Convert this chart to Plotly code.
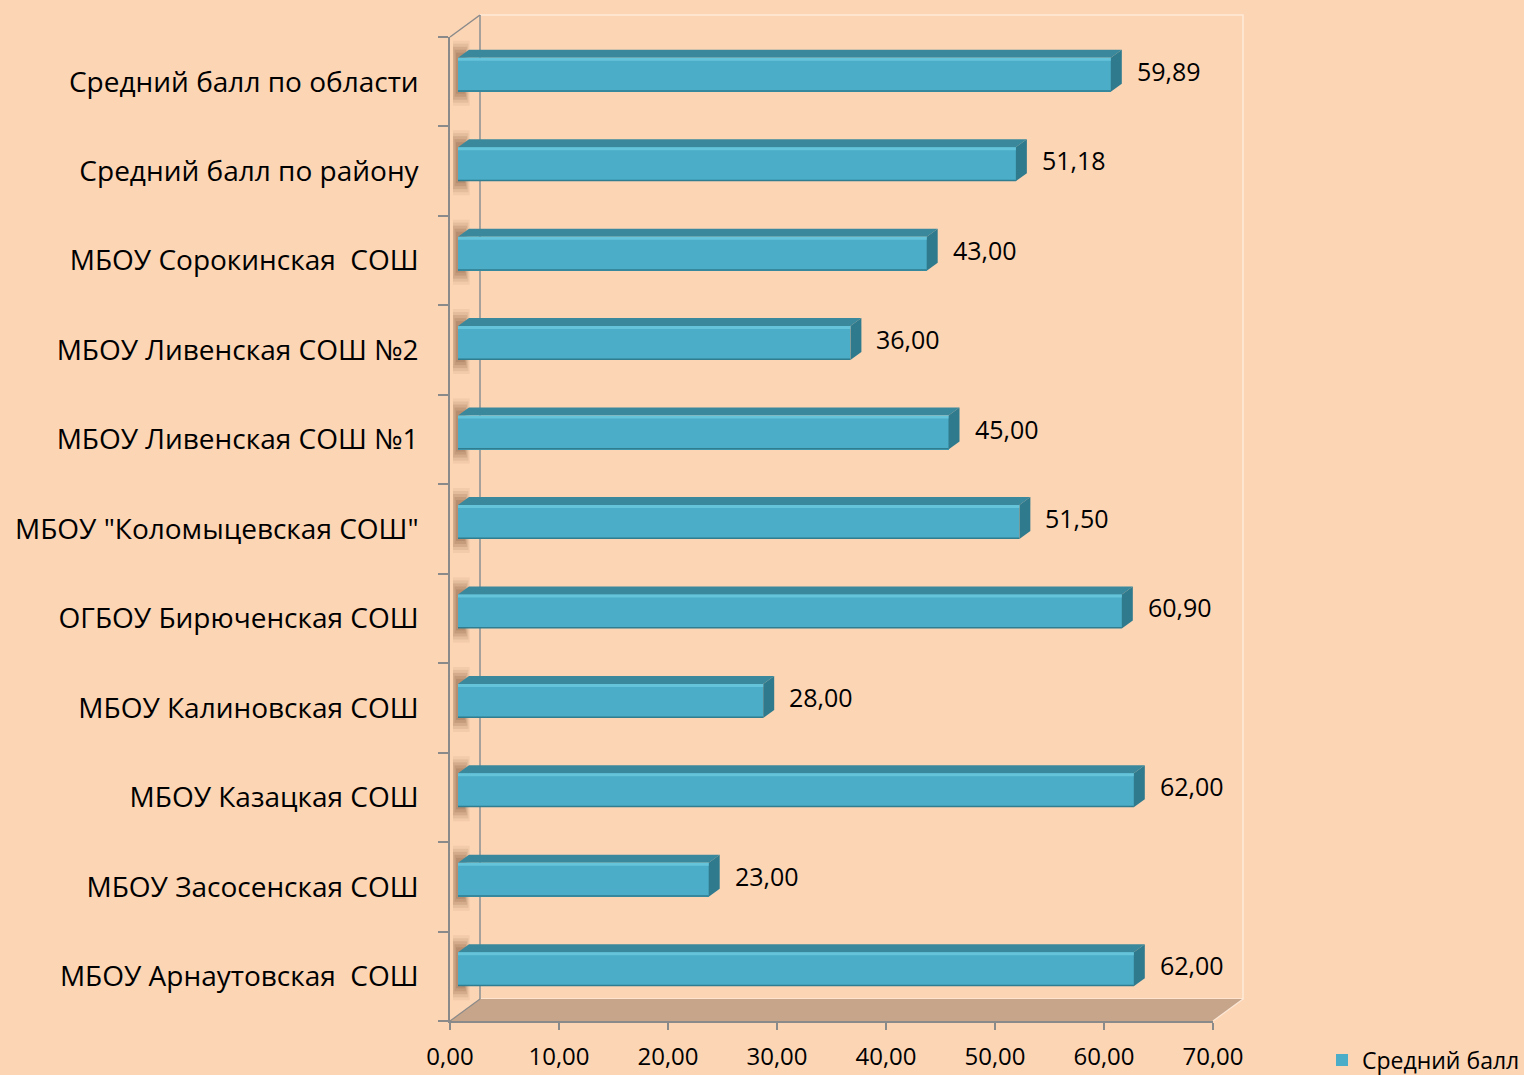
import plotly.graph_objects as go

# ---------------- data ----------------
categories = [
    "Средний балл по области",
    "Средний балл по району",
    "МБОУ Сорокинская\u00a0 СОШ",
    "МБОУ Ливенская СОШ №2",
    "МБОУ Ливенская СОШ №1",
    'МБОУ "Коломыцевская СОШ"',
    "ОГБОУ Бирюченская СОШ",
    "МБОУ Калиновская СОШ",
    "МБОУ Казацкая СОШ",
    "МБОУ Засосенская СОШ",
    "МБОУ Арнаутовская\u00a0 СОШ",
]
values = [59.89, 51.18, 43.00, 36.00, 45.00, 51.50, 60.90, 28.00, 62.00, 23.00, 62.00]
x_ticks = [0, 10, 20, 30, 40, 50, 60, 70]
series_name = "Средний балл"

# ---------------- geometry ----------------
W, H = 1524, 1075
L, R, T, B = 450, 1213, 37, 1021
XMAX = 70
n = len(categories)
pxx = (R - L) / XMAX
pxy = (B - T) / n


def ux(p):
    return p / pxx


def uy(p):
    return p / pxy


def px_x(p):
    return (p - L) / (R - L)


def px_y(p):
    return (B - p) / (B - T)


ypos = [n - 1 - k for k in range(n)]
base = ux(8)
yoff = uy(7)
bw = uy(34)
ddx, ddy = ux(11), uy(8)
yb = [y + yoff for y in ypos]

BG = "#FCD5B5"
FRONT = "#4BADC7"
TOP = "#3A889C"
SIDE = "#2F7A8D"
HILITE = "#66C4DA"
EDGE = "#2F7D8E"
GRAY = "#8A8A8A"
FONT = "Open Sans"

fig = go.Figure()
fig.add_trace(go.Bar(
    y=yb, x=values, base=base, orientation="h", width=bw,
    marker=dict(color=FRONT, line=dict(width=0)),
    name=series_name, showlegend=True,
))

shapes = []
# back wall, floor, left wall
DX, DY = 30, 22
shapes.append(dict(type="rect", xref="paper", yref="paper",
                   x0=px_x(L + DX), x1=px_x(R + DX), y0=px_y(B - DY), y1=px_y(T - DY),
                   line=dict(color="rgba(255,236,220,0.9)", width=1.5), fillcolor="rgba(0,0,0,0)", layer="below"))
shapes.append(dict(type="path", xref="paper", yref="paper",
                   path=f"M{px_x(L)},{px_y(B)} L{px_x(R)},{px_y(B)} L{px_x(R+DX)},{px_y(B-DY)} L{px_x(L+DX)},{px_y(B-DY)} Z",
                   fillcolor="#C6A58B", line=dict(width=0), layer="below"))
shapes.append(dict(type="line", xref="paper", yref="paper",
                   x0=px_x(L + DX), x1=px_x(L + DX), y0=px_y(B - DY), y1=px_y(T - DY),
                   line=dict(color=GRAY, width=1.5), layer="below"))
shapes.append(dict(type="line", xref="paper", yref="paper",
                   x0=px_x(L), x1=px_x(L + DX), y0=px_y(T), y1=px_y(T - DY),
                   line=dict(color=GRAY, width=1.5), layer="below"))
shapes.append(dict(type="line", xref="paper", yref="paper",
                   x0=px_x(L), x1=px_x(L + DX), y0=px_y(B), y1=px_y(B - DY),
                   line=dict(color=GRAY, width=1.2), layer="below"))
shapes.append(dict(type="line", xref="paper", yref="paper",
                   x0=px_x(R), x1=px_x(R + DX), y0=px_y(B), y1=px_y(B - DY),
                   line=dict(color="rgba(255,236,220,0.9)", width=1.2), layer="below"))

for y, v in zip(yb, values):
    top = y + bw / 2
    bot = y - bw / 2
    # soft shadow on the left wall
    for k, a in [(14, 0.07), (11, 0.10), (8, 0.13), (5, 0.15), (2, 0.16)]:
        shapes.append(dict(type="rect", xref="x", yref="y",
                           x0=ux(3 + max(0, 8 - k) * 0.5), x1=ux(14 + k * 0.4),
                           y0=bot - uy(k), y1=top + uy(k + 3),
                           fillcolor=f"rgba(110,65,35,{a})", line=dict(width=0), layer="below"))
    # top face
    shapes.append(dict(type="path", xref="x", yref="y",
                       path=f"M{base},{top} L{base+v},{top} L{base+v+ddx},{top+ddy} L{base+ddx},{top+ddy} Z",
                       fillcolor=TOP, line=dict(width=0)))
    # side face
    shapes.append(dict(type="path", xref="x", yref="y",
                       path=f"M{base+v},{bot} L{base+v},{top} L{base+v+ddx},{top+ddy} L{base+v+ddx},{bot+ddy} Z",
                       fillcolor=SIDE, line=dict(width=0)))
    # highlight strip
    shapes.append(dict(type="rect", xref="x", yref="y",
                       x0=base, x1=base + v, y0=top - uy(3), y1=top,
                       fillcolor=HILITE, line=dict(width=0)))
    # bottom edge
    shapes.append(dict(type="rect", xref="x", yref="y",
                       x0=base, x1=base + v, y0=bot, y1=bot + uy(1.5),
                       fillcolor=EDGE, line=dict(width=0)))

annotations = []
for y, v in zip(yb, values):
    annotations.append(dict(
        x=base + v + ddx, y=y, xref="x", yref="y", xanchor="left", yanchor="middle",
        xshift=13, yshift=4, showarrow=False,
        text=f"{v:.2f}".replace(".", ","), font=dict(family=FONT, size=25, color="#000000"),
    ))

fig.update_layout(
    width=W, height=H,
    paper_bgcolor=BG, plot_bgcolor=BG,
    margin=dict(l=L, r=W - R, t=T, b=H - B, autoexpand=False),
    separators=", ",
    shapes=shapes, annotations=annotations,
    font=dict(family=FONT, color="#000000"),
    showlegend=True,
    legend=dict(x=px_x(1322), y=px_y(1060), xanchor="left", yanchor="middle",
                bgcolor="rgba(0,0,0,0)", font=dict(family=FONT, size=23),
                itemwidth=30),
    xaxis=dict(range=[0, XMAX], tickvals=x_ticks, tickformat=".2f",
               showgrid=False, zeroline=False, showline=True, linecolor=GRAY, linewidth=1.5,
               ticks="outside", ticklen=7, tickcolor=GRAY, tickwidth=1.5,
               tickfont=dict(family=FONT, size=24), ticklabelstandoff=6, fixedrange=True),
    yaxis=dict(range=[-0.5, n - 0.5], tickvals=ypos, ticktext=categories,
               showgrid=False, zeroline=False, showline=True, linecolor=GRAY, linewidth=1.5,
               ticks="", tickfont=dict(family=FONT, size=28), ticklabelstandoff=24,
               minor=dict(tick0=-0.5, dtick=1, ticks="outside", ticklen=10, tickcolor=GRAY, tickwidth=1.5),
               fixedrange=True),
    bargap=0,
)

fig.write_html("out.html", config={"displayModeBar": False},
               post_script="document.body.style.margin='0';document.body.style.padding='0';")
